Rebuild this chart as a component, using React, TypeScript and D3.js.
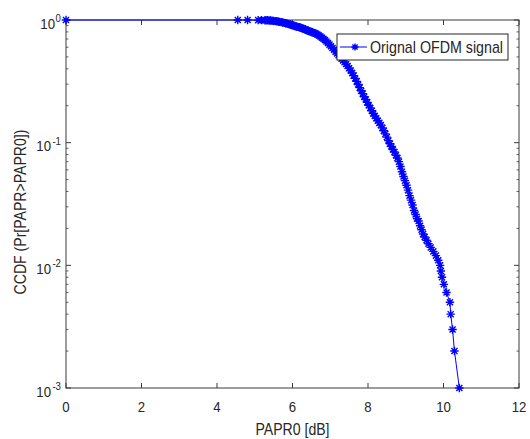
import React from "react";
import { scaleLinear, scaleLog, line } from "d3";

// PAPR0 values (dB)
const papr = [
  0, 4.55, 4.81, 5.09, 5.18, 5.27,
  5.3, 5.34, 5.38, 5.42, 5.46, 5.5, 5.54, 5.58, 5.62, 5.66, 5.7, 5.74, 5.78, 5.82, 5.86, 5.9,
  5.94, 5.98, 6.02, 6.06, 6.1, 6.14, 6.18, 6.22, 6.26, 6.3, 6.34, 6.38, 6.42, 6.46, 6.5, 6.54,
  6.58, 6.62, 6.66, 6.7, 6.74, 6.78, 6.82, 6.86, 6.9, 6.94, 6.98, 7.02, 7.06, 7.1, 7.14, 7.18,
  7.22, 7.26, 7.3, 7.34, 7.38, 7.42, 7.46, 7.5, 7.54, 7.58, 7.62, 7.66, 7.7, 7.74, 7.78, 7.82,
  7.86, 7.9, 7.94, 7.98, 8.02, 8.06, 8.1, 8.14, 8.18, 8.22, 8.26, 8.3, 8.34, 8.38, 8.42, 8.46,
  8.5, 8.54, 8.58, 8.62, 8.66, 8.7, 8.74, 8.78, 8.82, 8.86, 8.9, 8.94, 8.98, 9.02, 9.06, 9.1,
  9.14, 9.18, 9.22, 9.26, 9.3, 9.34, 9.38, 9.42, 9.46, 9.5,
  9.55, 9.6, 9.66, 9.73, 9.8, 9.86, 9.91, 9.93, 9.96, 10.01, 10.08, 10.17, 10.19, 10.24, 10.29, 10.42,
];

// CCDF values Pr[PAPR > PAPR0]
const ccdf = [
  1, 1, 0.999, 0.998, 0.997, 0.996,
  0.996, 0.994, 0.992, 0.99, 0.987, 0.984, 0.98, 0.976, 0.971, 0.966, 0.96, 0.954, 0.948, 0.941, 0.934, 0.926,
  0.918, 0.91, 0.902, 0.894, 0.886, 0.879, 0.872, 0.864, 0.855, 0.846, 0.836, 0.826, 0.817, 0.808, 0.799, 0.79,
  0.782, 0.774, 0.762, 0.748, 0.733, 0.718, 0.703, 0.686, 0.668, 0.649, 0.63, 0.611, 0.591, 0.571, 0.552, 0.533,
  0.516, 0.5, 0.484, 0.468, 0.453, 0.437, 0.421, 0.404, 0.387, 0.37, 0.352, 0.334, 0.316, 0.298, 0.281, 0.265,
  0.251, 0.237, 0.225, 0.213, 0.202, 0.192, 0.182, 0.173, 0.165, 0.158, 0.151, 0.145, 0.139, 0.132, 0.125, 0.118,
  0.111, 0.104, 0.098, 0.093, 0.088, 0.084, 0.079, 0.075, 0.07, 0.064, 0.058, 0.053, 0.049, 0.045, 0.041, 0.037,
  0.034, 0.031, 0.028, 0.026, 0.024, 0.023, 0.021, 0.0195, 0.018, 0.017,
  0.016, 0.015, 0.014, 0.013, 0.012, 0.011, 0.01, 0.009, 0.008, 0.007, 0.006, 0.005, 0.004, 0.003, 0.002, 0.001,
];

const xTicks = [0, 2, 4, 6, 8, 10, 12];
const yDecades = [0, -1, -2, -3];
const legendLabel = "Orignal OFDM signal";
const xLabel = "PAPR0 [dB]";
const yLabel = "CCDF (Pr[PAPR>PAPR0])";

const W = 530;
const H = 439;
const left = 66, right = 519, top = 20, bottom = 388;
const blue = "#0000ff";
const axisCol = "#3a3a3a";
const font = "'Liberation Sans', Arial, sans-serif";
const sx = 0.88; // glyphs in the reference look a bit narrow

function Star({ cx, cy, r = 4.2 }: { cx: number; cy: number; r?: number }) {
  const d = r * 0.72;
  return (
    <path
      d={`M${cx - r},${cy}H${cx + r}M${cx},${cy - r}V${cy + r}M${cx - d},${cy - d}L${cx + d},${cy + d}M${cx - d},${cy + d}L${cx + d},${cy - d}`}
      stroke={blue}
      strokeWidth={1.4}
      fill="none"
    />
  );
}

function Txt({ x, y, size, anchor = "middle", children, rotate = 0 }: any) {
  return (
    <text
      transform={`translate(${x},${y}) rotate(${rotate}) scale(${sx},1)`}
      fontSize={size}
      fontFamily={font}
      textAnchor={anchor}
      fill="#262626"
    >
      {children}
    </text>
  );
}

export default function App() {
  const x = scaleLinear().domain([0, 12]).range([left, right]);
  const y = scaleLog().domain([1e-3, 1]).range([bottom, top]);
  const pts = papr.map((p, i) => [x(p), y(ccdf[i])] as [number, number]);
  const path = line()(pts) || "";

  const minor: number[] = [];
  for (let e = -3; e < 0; e++) for (let m = 2; m <= 9; m++) minor.push(m * Math.pow(10, e));

  const legX = 337, legY = 34, legW = 171, legH = 26;

  return (
    <svg width={W} height={H} style={{ position: "absolute", left: 0, top: 0, background: "#fff" }}>
      <rect x={0} y={0} width={W} height={H} fill="#fff" />
      {/* ticks */}
      {xTicks.map((t) => (
        <g key={"xt" + t} stroke={axisCol} strokeWidth={1}>
          <line x1={x(t)} x2={x(t)} y1={bottom} y2={bottom - 5} />
          <line x1={x(t)} x2={x(t)} y1={top} y2={top + 5} />
        </g>
      ))}
      {yDecades.map((e) => (
        <g key={"yt" + e} stroke={axisCol} strokeWidth={1}>
          <line x1={left} x2={left + 5} y1={y(Math.pow(10, e))} y2={y(Math.pow(10, e))} />
          <line x1={right} x2={right - 5} y1={y(Math.pow(10, e))} y2={y(Math.pow(10, e))} />
        </g>
      ))}
      {minor.map((v, i) => (
        <g key={"mn" + i} stroke={axisCol} strokeWidth={0.8}>
          <line x1={left} x2={left + 2.5} y1={y(v)} y2={y(v)} />
          <line x1={right} x2={right - 2.5} y1={y(v)} y2={y(v)} />
        </g>
      ))}
      {/* axes box */}
      <rect x={left} y={top} width={right - left} height={bottom - top} fill="none" stroke={axisCol} strokeWidth={1} />

      {/* data */}
      <path d={path} fill="none" stroke={blue} strokeWidth={1} />
      {pts.map((p, i) => (
        <Star key={i} cx={p[0]} cy={p[1]} />
      ))}

      {/* tick labels */}
      {xTicks.map((t) => (
        <Txt key={"xl" + t} x={x(t)} y={412} size={15}>
          {t}
        </Txt>
      ))}
      {yDecades.map((e) => {
        const ty = y(Math.pow(10, e));
        const supW = e === 0 ? 6 : 10;
        return (
          <g key={"yl" + e}>
            <Txt x={61 - supW} y={ty + 8.5} size={15} anchor="end">
              10
            </Txt>
            <Txt x={61} y={ty + 2} size={11} anchor="end">
              {String(e)}
            </Txt>
          </g>
        );
      })}

      {/* axis labels */}
      <Txt x={(left + right) / 2} y={435} size={16}>
        {xLabel}
      </Txt>
      <Txt x={26} y={(top + bottom) / 2 + 8} size={16} rotate={-90}>
        {yLabel}
      </Txt>

      {/* legend */}
      <rect x={legX} y={legY} width={legW} height={legH} fill="#fff" stroke="#262626" strokeWidth={1} />
      <line x1={legX + 3} x2={legX + 30} y1={legY + 13} y2={legY + 13} stroke={blue} strokeWidth={1} />
      <Star cx={legX + 18} cy={legY + 13} r={3.6} />
      <Txt x={legX + 33} y={legY + 19} size={16.2} anchor="start">
        {legendLabel}
      </Txt>
    </svg>
  );
}
